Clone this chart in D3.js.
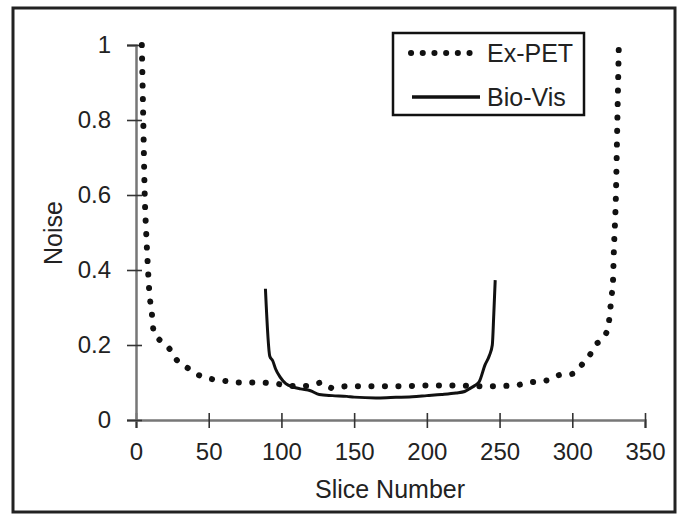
<!DOCTYPE html>
<html>
<head>
<meta charset="utf-8">
<script src="https://cdn.jsdelivr.net/npm/d3@7"></script>
<style>
  body { margin: 0; background: #fff; }
  svg { display: block; font-family: "Liberation Sans", Arial, sans-serif; }
</style>
</head>
<body>
<div id="chart"></div>
<script>
// Tick values for both axes
var xTicks = [0, 50, 100, 150, 200, 250, 300, 350];
var yTicks = [0, 0.2, 0.4, 0.6, 0.8, 1];

// Ex-PET series (slice number, noise)
var expetSlice = [4, 5, 6, 7, 8, 9, 11, 12, 17, 23, 28, 35, 43, 51, 60, 70, 85, 100, 110, 120, 128, 135, 145, 160, 180, 200, 220, 240, 260, 270, 284, 291, 300, 306, 312, 316, 322, 325, 326, 327, 328, 328.5, 330, 331, 332];
var expetNoise = [1.0, 0.8, 0.6, 0.5, 0.42, 0.35, 0.28, 0.24, 0.21, 0.19, 0.16, 0.14, 0.12, 0.11, 0.105, 0.1, 0.1, 0.095, 0.09, 0.092, 0.1, 0.085, 0.09, 0.09, 0.09, 0.092, 0.092, 0.09, 0.092, 0.1, 0.107, 0.12, 0.123, 0.145, 0.173, 0.2, 0.222, 0.256, 0.29, 0.33, 0.37, 0.44, 0.6, 0.8, 1.0];

// Bio-Vis series
var biovisSlice = [89, 92, 94, 96, 99, 103, 108, 113, 120, 126, 135, 145, 150, 165, 175, 190, 200, 210, 220, 226, 230, 233, 236, 240, 243, 245, 246, 247];
var biovisNoise = [0.35, 0.17, 0.158, 0.136, 0.115, 0.097, 0.088, 0.083, 0.078, 0.068, 0.065, 0.063, 0.061, 0.059, 0.06, 0.062, 0.065, 0.068, 0.072, 0.076, 0.085, 0.092, 0.102, 0.147, 0.172, 0.2, 0.28, 0.373];

var width = 683;
var height = 514;

var svg = d3.select('#chart')
    .append('svg')
    .attr('width', width)
    .attr('height', height);

// outer frame
svg.append('rect')
    .attr('x', 13).attr('y', 8)
    .attr('width', 662).attr('height', 504)
    .attr('fill', 'none')
    .attr('stroke', '#222')
    .attr('stroke-width', 3);

var xScale = d3.scaleLinear().domain([0, 350]).range([136, 645]);
var yScale = d3.scaleLinear().domain([0, 1]).range([420, 45]);

// x axis
var xAxis = d3.axisBottom(xScale)
    .tickValues(xTicks)
    .tickSize(8)
    .tickPadding(15)
    .tickFormat(d3.format('~g'));

var gx = svg.append('g')
    .attr('transform', 'translate(0,' + yScale(0) + ')')
    .call(xAxis);

// y axis
var yAxis = d3.axisLeft(yScale)
    .tickValues(yTicks)
    .tickSize(9)
    .tickPadding(16)
    .tickFormat(d3.format('~g'));

var gy = svg.append('g')
    .attr('transform', 'translate(' + xScale(0) + ',0)')
    .call(yAxis);

// ticks cross the axis line, as in the original
gx.selectAll('.tick line').attr('y1', -7).attr('y2', 8);
gy.selectAll('.tick line').attr('x1', -9).attr('x2', 6);

[gx, gy].forEach(function (g) {
    g.select('.domain')
        .attr('stroke', '#777')
        .attr('stroke-width', 2.5);
    g.selectAll('.tick line')
        .attr('stroke', '#333')
        .attr('stroke-width', 1.6);
    g.selectAll('.tick text')
        .attr('fill', '#222')
        .style('font-size', '24px')
        .style('font-family', '"Liberation Sans", Arial, sans-serif');
});

// axis titles
svg.append('text')
    .attr('x', 390).attr('y', 498)
    .attr('text-anchor', 'middle')
    .attr('fill', '#222')
    .style('font-size', '25px')
    .text('Slice Number');

svg.append('text')
    .attr('transform', 'translate(62,233) rotate(-90)')
    .attr('text-anchor', 'middle')
    .attr('fill', '#222')
    .style('font-size', '25px')
    .text('Noise');

// lines
var line = d3.line()
    .x(function (d) { return xScale(d[0]); })
    .y(function (d) { return yScale(d[1]); })
    .curve(d3.curveMonotoneX);

var expetData = d3.zip(expetSlice, expetNoise);
var biovisData = d3.zip(biovisSlice, biovisNoise);

svg.append('path')
    .datum(expetData)
    .attr('d', line)
    .attr('fill', 'none')
    .attr('stroke', '#111')
    .attr('stroke-width', 6)
    .attr('stroke-linecap', 'round')
    .attr('stroke-dasharray', '0.1,13.4');

svg.append('path')
    .datum(biovisData)
    .attr('d', line)
    .attr('fill', 'none')
    .attr('stroke', '#111')
    .attr('stroke-width', 3);

// legend
var legend = svg.append('g');
legend.append('rect')
    .attr('x', 393).attr('y', 33)
    .attr('width', 191).attr('height', 82)
    .attr('fill', '#fff')
    .attr('stroke', '#111')
    .attr('stroke-width', 2.5);

legend.append('line')
    .attr('x1', 411).attr('x2', 470)
    .attr('y1', 53).attr('y2', 53)
    .attr('stroke', '#111')
    .attr('stroke-width', 6)
    .attr('stroke-linecap', 'round')
    .attr('stroke-dasharray', '0.1,11.6');

legend.append('line')
    .attr('x1', 412).attr('x2', 480)
    .attr('y1', 97).attr('y2', 97)
    .attr('stroke', '#111')
    .attr('stroke-width', 3.5);

legend.selectAll('text.lbl')
    .data(['Ex-PET', 'Bio-Vis'])
    .enter()
    .append('text')
        .attr('class', 'lbl')
        .attr('x', 487)
        .attr('y', function (d, i) { return 62 + i * 44; })
        .attr('fill', '#222')
        .style('font-size', '25px')
        .text(function (d) { return d; });
</script>
</body>
</html>
